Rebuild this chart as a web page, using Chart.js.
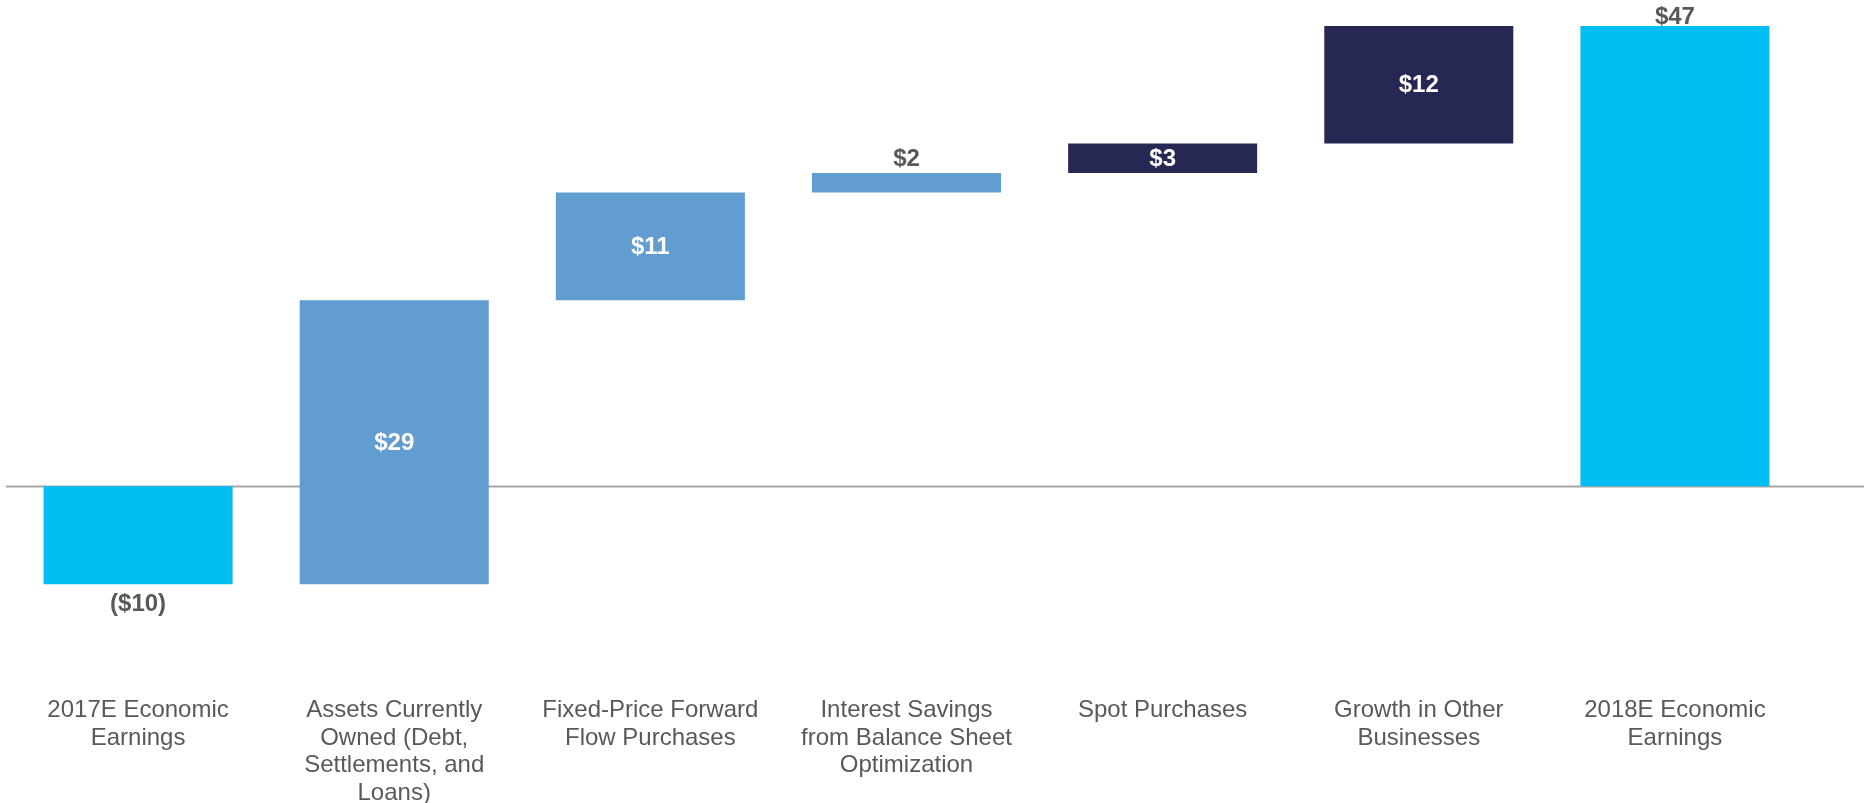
<!DOCTYPE html>
<html>
<head>
<meta charset="utf-8">
<script src="https://cdn.jsdelivr.net/npm/chart.js@4/dist/chart.umd.min.js"></script>
<style>
  html, body { margin: 0; padding: 0; background: #ffffff; }
  #wrap { width: 1864px; height: 803px; position: relative; }
</style>
</head>
<body>
<div id="wrap"><canvas id="c" width="1864" height="803"></canvas></div>
<script>
// Bridge from 2017E to 2018E economic earnings ($ millions)
const categories = [
  ["2017E Economic", "Earnings"],
  ["Assets Currently", "Owned (Debt,", "Settlements, and", "Loans)"],
  ["Fixed-Price Forward", "Flow Purchases"],
  ["Interest Savings", "from Balance Sheet", "Optimization"],
  ["Spot Purchases"],
  ["Growth in Other", "Businesses"],
  ["2018E Economic", "Earnings"]
];
const amounts = [-10, 29, 11, 2, 3, 12, 47];
const isTotal = [true, false, false, false, false, false, true];
const barColors = ["#00BEF2", "#629DD1", "#629DD1", "#629DD1", "#262853", "#262853", "#00BEF2"];

// Value axis bounds (axis itself is hidden; lower bound leaves room above the category labels)
const yMin = -21.1;
const yMax = 47;

// Floating ranges: totals start at zero, steps start where the running sum left off
const ranges = [];
let running = 0;
amounts.forEach((v, i) => {
  if (isTotal[i]) {
    ranges.push([0, v]);
    running = v;
  } else {
    ranges.push([running, running + v]);
    running += v;
  }
});

const FONT = "'Liberation Sans', Arial, sans-serif";
const TEXT_GREY = "#58595B";

const fmt = v => v < 0 ? "($" + Math.abs(v) + ")" : "$" + v;

// Horizontal baseline at zero, wider than the bar area
const zeroLine = {
  id: "zeroLine",
  beforeDatasetsDraw(chart) {
    const y = Math.round(chart.scales.y.getPixelForValue(0)) + 0.5;
    const ctx = chart.ctx;
    ctx.save();
    ctx.strokeStyle = "#A6A6A6";
    ctx.lineWidth = 2;
    ctx.beginPath();
    ctx.moveTo(6, y);
    ctx.lineTo(chart.width, y);
    ctx.stroke();
    ctx.restore();
  }
};

// Value labels: inside tall bars, outside short ones and outside totals
const valueLabels = {
  id: "valueLabels",
  afterDatasetsDraw(chart) {
    const ctx = chart.ctx;
    const meta = chart.getDatasetMeta(0);
    ctx.save();
    ctx.font = "bold 24px " + FONT;
    ctx.textAlign = "center";
    meta.data.forEach((bar, i) => {
      const v = amounts[i];
      const top = Math.min(bar.y, bar.base);
      const bottom = Math.max(bar.y, bar.base);
      const h = bottom - top;
      const text = fmt(v);
      if (isTotal[i]) {
        ctx.fillStyle = TEXT_GREY;
        ctx.textBaseline = "alphabetic";
        if (v >= 0) {
          ctx.fillText(text, bar.x, top - 2);
        } else {
          ctx.fillText(text, bar.x, bottom + 27);
        }
      } else if (h < 20) {
        ctx.fillStyle = TEXT_GREY;
        ctx.textBaseline = "alphabetic";
        ctx.fillText(text, bar.x, top - 7);
      } else {
        ctx.fillStyle = "#FFFFFF";
        ctx.textBaseline = "middle";
        ctx.fillText(text, bar.x, (top + bottom) / 2 + 1);
      }
    });
    ctx.restore();
  }
};

new Chart(document.getElementById("c"), {
  type: "bar",
  data: {
    labels: categories,
    datasets: [{
      data: ranges,
      backgroundColor: barColors,
      borderWidth: 0,
      borderSkipped: false,
      categoryPercentage: 1,
      barPercentage: 0.738
    }]
  },
  options: {
    responsive: false,
    animation: false,
    devicePixelRatio: 1,
    layout: { padding: { left: 10, right: 61, top: 26, bottom: -8 } },
    plugins: {
      legend: { display: false },
      tooltip: { enabled: false }
    },
    scales: {
      x: {
        grid: { display: false, drawTicks: false },
        border: { display: false },
        ticks: {
          color: TEXT_GREY,
          font: { family: FONT, size: 24, lineHeight: 1.146 },
          padding: 4,
          maxRotation: 0,
          minRotation: 0,
          autoSkip: false
        }
      },
      y: {
        display: false,
        min: yMin,
        max: yMax
      }
    }
  },
  plugins: [zeroLine, valueLabels]
});
</script>
</body>
</html>
